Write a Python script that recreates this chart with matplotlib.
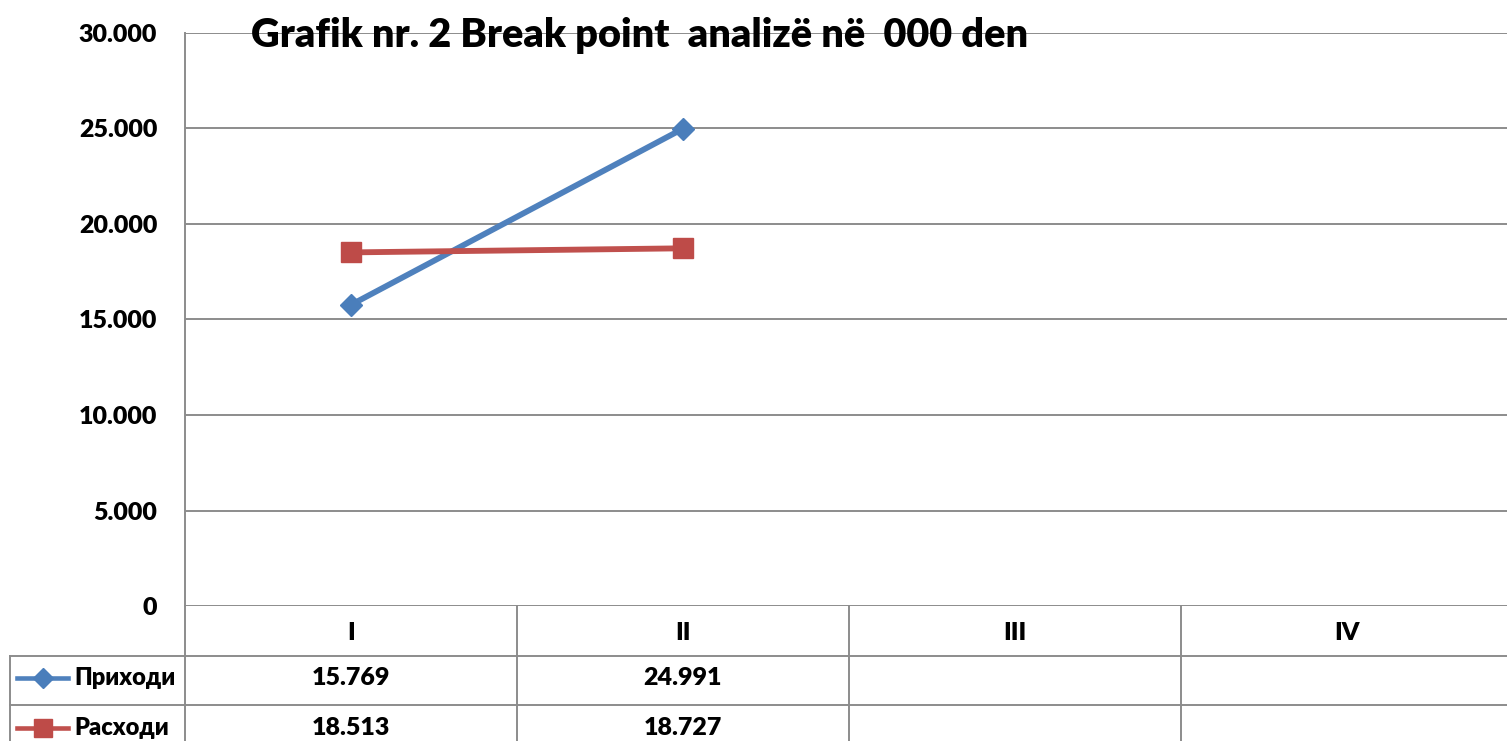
import matplotlib.pyplot as plt
from matplotlib.ticker import FuncFormatter

# chart data
categories = ["I", "II", "III", "IV"]
series_names = ["Приходи", "Расходи"]
prihodi = [15769, 24991]
rashodi = [18513, 18727]
y_ticks = [0, 5000, 10000, 15000, 20000, 25000, 30000]
title = "Grafik nr. 2 Break point  analizë në  000 den"

BLUE = "#4F81BD"
RED = "#C0504D"
GRID = "#8C8C8C"

plt.rcParams["font.family"] = ["Lato", "DejaVu Sans"]
plt.rcParams["font.weight"] = "heavy"

W, H = 1507, 741
FS = 18


def fmt(v):
    return f"{v:,.0f}".replace(",", ".")


fig = plt.figure(figsize=(W / 100, H / 100), dpi=100)

# main plot area
ax = fig.add_axes([185 / W, 1 - 606 / H, 1328 / W, 573 / H])
styles = [
    dict(color=BLUE, marker="D", ms=11.5, mfc="#4A7EBB", mec="#4A7EBB"),
    dict(color=RED, marker="s", ms=14.5, mfc="#BE4B48", mec="#BE4B48"),
]
for vals, st in zip([prihodi, rashodi], styles):
    ax.plot(range(len(vals)), vals, lw=4.2, zorder=3, **st)

ax.set_xlim(-0.5, len(categories) - 0.5)
ax.set_ylim(y_ticks[0], y_ticks[-1])
ax.set_yticks(y_ticks)
ax.yaxis.set_major_formatter(FuncFormatter(lambda v, p: fmt(v)))
ax.set_xticks([])
ax.grid(axis="y", color=GRID, lw=1.4)
ax.tick_params(axis="y", length=0, pad=20, labelsize=FS)
for s in ["top", "right", "bottom"]:
    ax.spines[s].set_visible(False)
ax.spines["left"].set_color(GRID)
ax.spines["left"].set_linewidth(1.4)

fig.text(640 / W, 1 - 36 / H, title, ha="center", va="center", fontsize=28.5)

# data table below
tax = fig.add_axes([185 / W, 1 - 755 / H, 1328 / W, 149 / H])
tax.set_xlim(-0.5, len(categories) - 0.5)
tax.set_ylim(3, 0)
tax.axis("off")
left = -1.027
line_kw = dict(color=GRID, lw=1.4, clip_on=False)
for yy in [1, 2]:
    tax.plot([left, len(categories) - 0.5], [yy, yy], **line_kw)
for xx in [-0.5 + i for i in range(len(categories))]:
    tax.plot([xx, xx], [0, 3], **line_kw)
tax.plot([left, left], [1, 3], **line_kw)

for i, c in enumerate(categories):
    tax.text(i, 0.55, c, ha="center", va="center", fontsize=FS)
for r, (name, vals, st) in enumerate(zip(series_names, [prihodi, rashodi], styles)):
    yy = 1.45 + r
    for i, v in enumerate(vals):
        tax.text(i, yy, fmt(v), ha="center", va="center", fontsize=FS)
    tax.plot([-1.006, -0.852], [yy, yy], color=st["color"], lw=3.3, clip_on=False)
    tax.plot([-0.929], [yy], ls="none", marker=st["marker"], ms=st["ms"] - 1,
             mfc=st["mfc"], mec=st["mec"], clip_on=False)
    tax.text(-0.834, yy, name, ha="left", va="center", fontsize=17)

fig.savefig("out.png", dpi=100)
